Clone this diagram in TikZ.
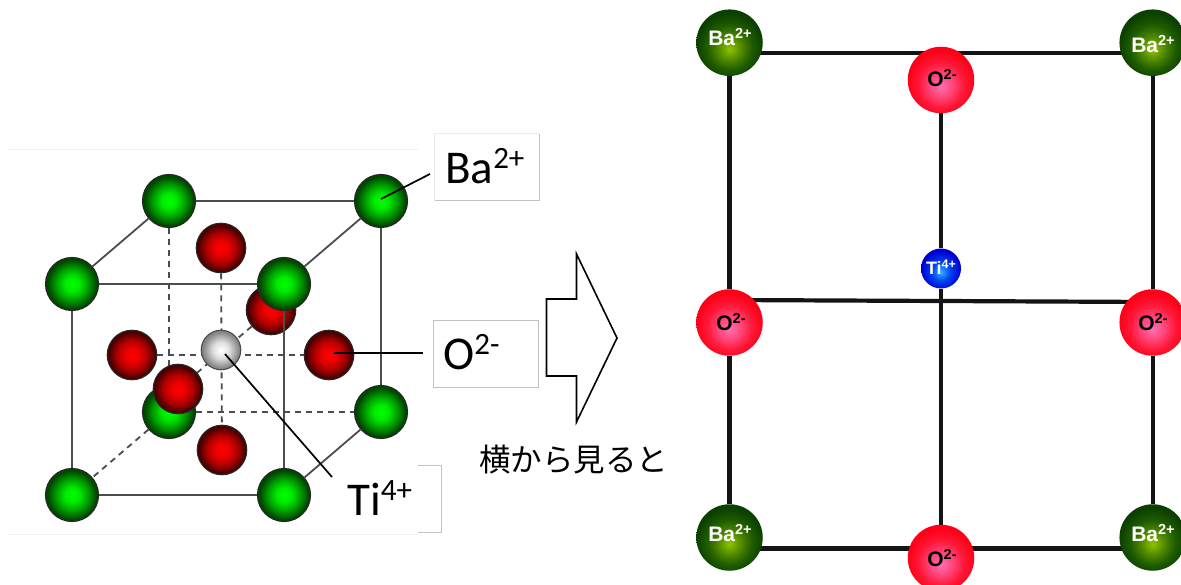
\documentclass[tikz,border=0pt]{standalone}
\usepackage{fontspec}
\setmainfont{Carlito}
\newfontfamily\cjk{Noto Sans CJK JP}
\newfontfamily\arialb{Liberation Sans}[Scale=1]
\usetikzlibrary{backgrounds}
\definecolor{gmid}{HTML}{00A000}
\definecolor{gout}{HTML}{004800}
\pgfdeclareradialshading{gball}{\pgfpoint{0bp}{0bp}}{color(0bp)=(green); color(7bp)=(green!92!black); color(15bp)=(gmid); color(23bp)=(gout); color(50bp)=(gout)}
\definecolor{rmid}{HTML}{B00000}
\definecolor{rout}{HTML}{4A0000}
\pgfdeclareradialshading{rball}{\pgfpoint{0bp}{0bp}}{color(0bp)=(red); color(7bp)=(red!92!black); color(15bp)=(rmid); color(23bp)=(rout); color(50bp)=(rout)}
\pgfdeclareradialshading{wball}{\pgfpoint{0bp}{0bp}}{color(0bp)=(white); color(10bp)=(black!12); color(23bp)=(black!48); color(50bp)=(black!48)}
\definecolor{ba0}{HTML}{8FC400}
\definecolor{ba1}{HTML}{4F8800}
\definecolor{ba2}{HTML}{1F5C00}
\definecolor{ba3}{HTML}{0C4000}
\definecolor{o0}{HTML}{FF70B0}
\definecolor{o1}{HTML}{FF4478}
\definecolor{o2}{HTML}{FF1838}
\definecolor{o3}{HTML}{FF0018}
\definecolor{t0}{HTML}{30B0FF}
\definecolor{t1}{HTML}{0040F0}
\definecolor{t2}{HTML}{0000D0}
\pgfdeclareradialshading{baball}{\pgfpoint{0bp}{-5bp}}{color(0bp)=(ba0); color(9bp)=(ba1); color(17bp)=(ba2); color(25bp)=(ba3); color(60bp)=(ba3)}
\pgfdeclareradialshading{oball}{\pgfpoint{0bp}{-5bp}}{color(0bp)=(o0); color(9bp)=(o1); color(17bp)=(o2); color(25bp)=(o3); color(60bp)=(o3)}
\pgfdeclareradialshading{tiball}{\pgfpoint{0bp}{-5bp}}{color(0bp)=(t0); color(12bp)=(t1); color(25bp)=(t2); color(60bp)=(t2)}
\newcommand{\bigup}[1]{\raisebox{15pt}{\fontsize{31}{31}\selectfont #1}}
\newcommand{\boldup}[1]{\raisebox{7pt}{\fontsize{14.5}{14.5}\selectfont #1}}
\newcommand{\tiup}[1]{\raisebox{6pt}{\fontsize{12.5}{12.5}\selectfont #1}}
\tikzset{
 atom/.style={circle,inner sep=0pt,minimum size=#1,draw=black!85,line width=1.1pt},
 gatom/.style={atom=53pt,shading=gball},
 ratom/.style={atom=49.5pt,shading=rball},
 watom/.style={atom=39.5pt,shading=wball,draw=black!70},
 satom/.style={circle,inner sep=0pt,minimum size=#1},
 baatom/.style={satom=66.5pt,shading=baball},
 oatom/.style={satom=66.5pt,shading=oball},
 tiatom/.style={satom=40pt,shading=tiball},
 balabel/.style={font=\arialb\bfseries\fontsize{21}{21}\selectfont,text=white,inner sep=0pt,anchor=base},
 olabel/.style={font=\arialb\bfseries\fontsize{21}{21}\selectfont,text=black,inner sep=0pt,anchor=base},
 tilabel/.style={font=\arialb\bfseries\fontsize{18}{18}\selectfont,text=white,inner sep=0pt,anchor=base},
 solid3d/.style={draw=black!70,line width=1.8pt},
 dash3d/.style={draw=black!70,line width=1.8pt,dash pattern=on 6pt off 5pt},
 leader/.style={draw=black,line width=1.7pt},
 bond/.style={draw=black!92,line width=4.2pt},
 boxline/.style={draw=black!24,line width=1pt},
 boxfaint/.style={draw=black!8,line width=1pt},
 ionlabel/.style={font=\fontsize{47}{47}\selectfont,inner sep=0pt,anchor=base west},
 faint/.style={draw=black!6,line width=.8pt},
 arrowshape/.style={draw=black,line width=1.6pt,line join=miter,fill=white}
}
\begin{document}
\begin{tikzpicture}[x=1pt,y=-1pt]
\useasboundingbox (0,0) rectangle (1181,585);
% faint edges of the pasted image
\coordinate (fa) at (8,149); \coordinate (fb) at (418,149);
\coordinate (fc) at (8,534); \coordinate (fd) at (418,534);
\draw[faint] (fa) -- (fb);
\draw[faint] (fc) -- (fd);
% 3D cell, back to front
\node[gatom] (g1) at (169,201) {};
\node[gatom] (g2) at (381,201) {};
\node[gatom] (g5) at (381,412) {};
\node[ratom] (rT) at (221,248) {};
\node[ratom] (rB) at (222,450) {};
\node[ratom] (rL) at (132,355) {};
\node[ratom] (rR) at (329,355) {};
\node[ratom] (rK) at (271,310) {};
\node[watom] (ti) at (221,350) {};
\node[gatom] (g6) at (169,412) {};
\node[ratom] (rF) at (178,389) {};
\node[gatom] (g3) at (72,284) {};
\node[gatom] (g4) at (284,284) {};
\node[gatom] (g7) at (72,495) {};
\node[gatom] (g8) at (284,495) {};
\begin{scope}[on background layer]
\draw[solid3d] (g1) -- (g2);
\draw[solid3d] (g1) -- (g3);
\draw[solid3d] (g2) -- (g4);
\draw[solid3d] (g3) -- (g4);
\draw[solid3d] (g3) -- (g7);
\draw[solid3d] (g2) -- (g5);
\draw[solid3d] (g7) -- (g8);
\draw[solid3d] (g5) -- (g8);
\draw[dash3d] (g1) -- (g6);
\draw[dash3d] (g6) -- (g5);
\draw[dash3d] (g6) -- (g7);
\draw[dash3d] (rL) -- (rR);
\draw[dash3d] (rT) -- (rB);
\draw[dash3d] (rK) -- (rF);
\end{scope}
\draw[solid3d] (g4) -- (g8);
% label boxes
\coordinate (b1) at (434.5,134); \coordinate (b2) at (539,134);
\coordinate (b3) at (539,201); \coordinate (b4) at (434.5,201);
\fill[white] (b1) rectangle (b3);
\draw[boxfaint] (b4) -- (b1) -- (b2);
\draw[boxline] (b2) -- (b3) -- (b4);
\coordinate (o1c) at (433,320.5); \coordinate (o3c) at (538,387);
\fill[white] (o1c) rectangle (o3c);
\draw[boxline] (o1c) rectangle (o3c);
\fill[white] (338,464) rectangle (441,533);
\coordinate (tiA) at (418,465); \coordinate (tiB) at (441,465);
\coordinate (tiC) at (441,532.5); \coordinate (tiD) at (418,532.5);
\draw[boxline] (tiA) -- (tiB) -- (tiC) -- (tiD);
\node[ionlabel] (lBa) at (445,184) {Ba\bigup{2+}};
\node[ionlabel] (lO) at (443,370) {O\bigup{2-}};
\node[ionlabel] (lTi) at (347,515.5) {Ti\bigup{4+}};
% leaders
\coordinate (ldBa) at (430,174); \coordinate (ldBb) at (381,199);
\coordinate (ldO) at (422.5,353); \coordinate (ldOb) at (334,353);
\coordinate (ldTi) at (332,477); \coordinate (ldTb) at (225,354);
\draw[leader] (ldBa) -- (ldBb);
\draw[leader] (ldO) -- (ldOb);
\draw[leader] (ldTi) -- (ldTb);
% block arrow
\coordinate (a1) at (546.5,299); \coordinate (a2) at (576.5,299);
\coordinate (a3) at (576.5,254); \coordinate (a4) at (617,338);
\coordinate (a5) at (576.5,422); \coordinate (a6) at (576.5,376);
\coordinate (a7) at (546.5,376);
\draw[arrowshape] (a1) -- (a2) -- (a3) -- (a4) -- (a5) -- (a6) -- (a7) -- cycle;
\node[font=\cjk\fontsize{31.5}{31.5}\selectfont,inner sep=0pt] (cap) at (573.5,460) {横から見ると};
% flat view
\node[baatom] (B1) at (729.5,42.7) {};
\node[baatom] (B2) at (1152.7,42.7) {};
\node[baatom] (B3) at (729.5,537.5) {};
\node[baatom] (B4) at (1152.7,537.5) {};
\node[oatom] (Ot) at (941,80) {};
\node[oatom] (Ol) at (729.5,322.5) {};
\node[oatom] (Or) at (1152.7,322.5) {};
\node[oatom] (Ob) at (941,558) {};
\node[tiatom] (T) at (941,268.5) {};
\coordinate (tl) at (729.5,53); \coordinate (tr) at (1152.7,53);
\coordinate (ml) at (729.5,300); \coordinate (mr) at (1152.7,302);
\coordinate (bl) at (729.5,548.5); \coordinate (br) at (1152.7,548.5);
\begin{scope}[on background layer]
\draw[bond] (tl) -- (tr);
\draw[bond] (ml) -- (mr);
\draw[bond] (bl) -- (br);
\draw[bond] (B1) -- (Ol);
\draw[bond] (Ol) -- (B3);
\draw[bond] (B2) -- (Or);
\draw[bond] (Or) -- (B4);
\draw[bond] (Ot) -- (T);
\draw[bond] (T) -- (Ob);
\end{scope}
\node[balabel] (tB1) at (730,45.7) {Ba\boldup{2+}};
\node[balabel] (tB2) at (1153,53) {Ba\boldup{2+}};
\node[balabel] (tB3) at (730,541.7) {Ba\boldup{2+}};
\node[balabel] (tB4) at (1153,541.7) {Ba\boldup{2+}};
\node[olabel] (tO1) at (942,87) {O\boldup{2-}};
\node[olabel] (tO2) at (731,330.7) {O\boldup{2-}};
\node[olabel] (tO3) at (1153,330.7) {O\boldup{2-}};
\node[olabel] (tO4) at (942,566) {O\boldup{2-}};
\node[tilabel] (tT) at (941,275) {Ti\tiup{4+}};
\end{tikzpicture}
\end{document}
